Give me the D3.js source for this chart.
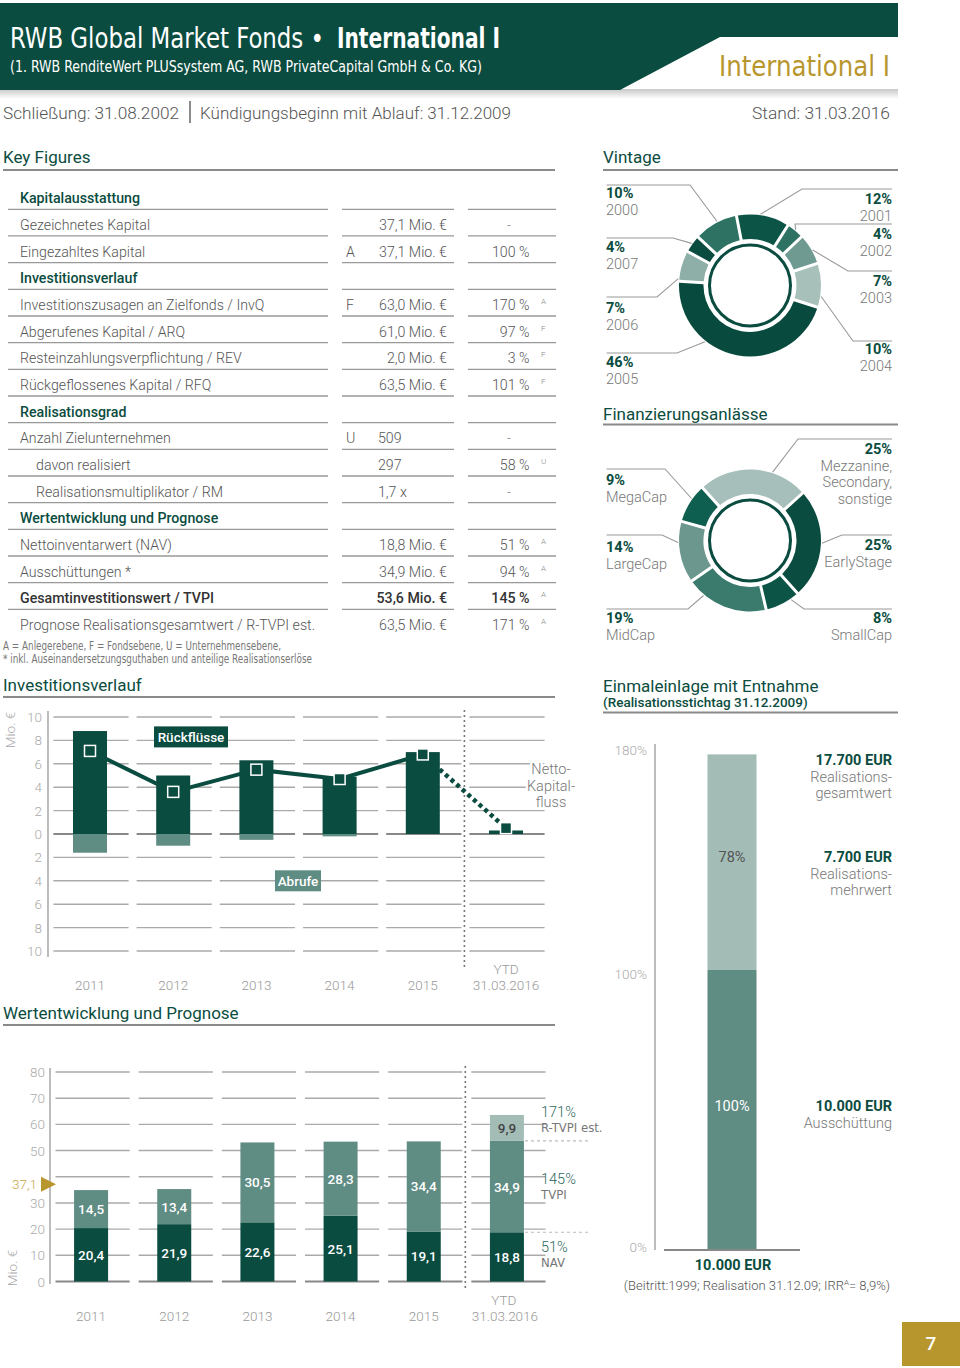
<!DOCTYPE html>
<html><head><meta charset="utf-8">
<script src="https://cdn.jsdelivr.net/npm/d3@7"></script>
<style>body{margin:0;background:#fff}svg{display:block}</style>
</head><body><svg id="c" width="960" height="1368"></svg>
<script>
// ---------------- DATA ----------------
const tableLabels = ["Kapitalausstattung","Gezeichnetes Kapital","Eingezahltes Kapital","Investitionsverlauf",
  "Investitionszusagen an Zielfonds / InvQ","Abgerufenes Kapital / ARQ","Resteinzahlungsverpflichtung / REV",
  "Rückgeflossenes Kapital / RFQ","Realisationsgrad","Anzahl Zielunternehmen","davon realisiert",
  "Realisationsmultiplikator / RM","Wertentwicklung und Prognose","Nettoinventarwert (NAV)","Ausschüttungen *",
  "Gesamtinvestitionswert / TVPI","Prognose Realisationsgesamtwert / R-TVPI est."];
const tableKind = ["head","row","row","head","row","row","row","row","head","row","sub","sub","head","row","row","total","row"];
const tableFlag = ["","","A","","F","","","","","U","","","","","","",""];
const tableValue = ["","37,1 Mio. €","37,1 Mio. €","","63,0 Mio. €","61,0 Mio. €","2,0 Mio. €","63,5 Mio. €","","509","297","1,7 x","","18,8 Mio. €","34,9 Mio. €","53,6 Mio. €","63,5 Mio. €"];
const tablePct = ["","-","100 %","","170 %","97 %","3 %","101 %","","-","58 %","-","","51 %","94 %","145 %","171 %"];
const tableLevel = ["","","","","A","F","F","F","","","U","","","A","A","A","A"];

const vintageYears = ["2000","2001","2002","2003","2004","2005","2006","2007"];
const vintageShares = [10,12,4,7,10,46,7,4];

const finCats = ["Mezzanine, Secondary, sonstige","EarlyStage","SmallCap","MidCap","LargeCap","MegaCap"];
const finShares = [25,25,8,19,14,9];

const flowYears = ["2011","2012","2013","2014","2015","YTD"];
const rueckfluesse = [8.8,5.0,6.3,4.9,7.0,0.3];
const abrufe = [-1.6,-1.0,-0.5,-0.2,0,0];
const nettoKapitalfluss = [7.1,3.6,5.5,4.7,6.8,0.5];
const flowTicks = [-10,-8,-6,-4,-2,0,2,4,6,8,10];

const wertYears = ["2011","2012","2013","2014","2015","YTD"];
const navValues = [20.4,21.9,22.6,25.1,19.1,18.8];
const ausschuettungValues = [14.5,13.4,30.5,28.3,34.4,34.9];
const prognoseValues = [0,0,0,0,0,9.9];
const wertTicks = [0,10,20,30,40,50,60,70,80];
const eingezahlt = 37.1;
const wertPct = ["171%","145%","51%"];
const wertPctNames = ["R-TVPI est.","TVPI","NAV"];

const einlageParts = [100,77];
const einlageLabels = ["100%","78%"];
const einlageTicks = [0,100,180];

// ---------------- STYLE ----------------
const DARK="#0b4c40", MID="#5f8c83", LIGHT="#a3bcb6", GOLD="#b8962e";
const FONT="Roboto, 'Liberation Sans', Arial, sans-serif";
const NARROW="'Liberation Sans Narrow','DejaVu Sans Condensed',Roboto,sans-serif";
const svg = d3.select("#c");
svg.append("rect").attr("width",960).attr("height",1368).attr("fill","#fff");

function txt(g,x,y,s,o={}){
  const t=g.append("text").attr("x",x).attr("y",y).text(s)
    .attr("font-family",o.ff||FONT).attr("font-size",o.fs||14)
    .attr("font-weight",o.fw||300).attr("fill",o.fill||"#555")
    .attr("text-anchor",o.anchor||"start");
  if(o.len) t.attr("textLength",o.len).attr("lengthAdjust","spacingAndGlyphs");
  if(o.halo) t.attr("stroke","#fff").attr("stroke-width",5).attr("paint-order","stroke").attr("stroke-linejoin","round");
  return t;
}
function hline(g,x0,x1,y,o={}){
  return g.append("line").attr("x1",x0).attr("x2",x1).attr("y1",y).attr("y2",y)
    .attr("stroke",o.stroke||"#999").attr("stroke-width",o.w||1.3)
    .attr("stroke-dasharray",o.dash||null);
}
function heading(x0,x1,y,s,ry){
  txt(svg,x0,y,s,{fs:17,fw:400,fill:DARK});
  hline(svg,x0,x1,ry||y+7,{stroke:"#8a8a8a",w:1.8});
}

// ---------------- HEADER ----------------
const defs=svg.append("defs");
const gr=defs.append("linearGradient").attr("id","shadow").attr("x1",0).attr("x2",0).attr("y1",0).attr("y2",1);
gr.append("stop").attr("offset","0%").attr("stop-color","#c8c8c8");
gr.append("stop").attr("offset","100%").attr("stop-color","#fff");
svg.append("rect").attr("x",0).attr("y",89).attr("width",898).attr("height",10).attr("fill","url(#shadow)");
svg.append("path").attr("d","M0,3H898V37H720L620,90H0Z").attr("fill",DARK);
txt(svg,10,48,"RWB Global Market Fonds •",{ff:NARROW,fs:28,fw:400,fill:"#fff",len:314});
txt(svg,337,48,"International I",{ff:NARROW,fs:28,fw:700,fill:"#fff",len:163});
txt(svg,10,72,"(1. RWB RenditeWert PLUSsystem AG, RWB PrivateCapital GmbH & Co. KG)",{ff:NARROW,fs:15,fill:"#fff",fw:400,len:472});
txt(svg,890,76,"International I",{ff:NARROW,fs:29,fill:GOLD,fw:400,anchor:"end",len:171});

txt(svg,3,119,"Schließung: 31.08.2002",{fs:17,len:176});
svg.append("line").attr("x1",190).attr("x2",190).attr("y1",101).attr("y2",123).attr("stroke","#666").attr("stroke-width",1.5);
txt(svg,200,119,"Kündigungsbeginn mit Ablauf: 31.12.2009",{fs:17,len:311});
txt(svg,890,119,"Stand: 31.03.2016",{fs:17,anchor:"end",len:138});

// ---------------- KEY FIGURES TABLE ----------------
heading(3,555,163,"Key Figures");
const tg=svg.append("g");
const rowY=i=>198.3+26.67*i;
tableLabels.forEach((lab,i)=>{
  const y=rowY(i)+5, k=tableKind[i];
  const isHead=k==="head", isTot=k==="total";
  const col=isHead?DARK:(isTot?"#333":"#555");
  const fw=(isHead||isTot)?500:300;
  txt(tg,k==="sub"?36:20,y,lab,{fs:14.2,fw:fw,fill:col});
  if(tableFlag[i]) txt(tg,346,y,tableFlag[i],{fs:14.2,fill:"#555"});
  const v=tableValue[i];
  if(v){ if(v.includes("Mio")) txt(tg,447,y,v,{fs:14.2,fw:fw,fill:col,anchor:"end"});
         else txt(tg,378,y,v,{fs:14.2,fw:fw,fill:col}); }
  const p=tablePct[i];
  if(p){ if(p==="-") txt(tg,509,y,p,{fs:14,fill:"#888",anchor:"middle"});
         else txt(tg,529.5,y,p,{fs:14.2,fw:fw,fill:col,anchor:"end"}); }
  if(tableLevel[i]) txt(tg,541,y-6,tableLevel[i],{fs:8,fill:"#888"});
  if(i<tableLabels.length-1){
    const ry=209.3+26.67*i;
    hline(tg,8,328,ry); hline(tg,342,454,ry); hline(tg,468,556,ry);
  }
});
txt(svg,3,650,"A = Anlegerebene, F = Fondsebene, U = Unternehmensebene,",{ff:NARROW,fs:13,fill:"#777",len:278});
txt(svg,3,663,"* inkl. Auseinandersetzungsguthaben und anteilige Realisationserlöse",{ff:NARROW,fs:13,fill:"#777",len:309});

// ---------------- DONUTS ----------------
function donut(cx,cy,names,shares,colors,startDeg,labels){
  const g=svg.append("g").attr("transform",`translate(${cx},${cy})`);
  const a0=startDeg*Math.PI/180;
  const pie=d3.pie().sort(null).value(d=>d).startAngle(a0).endAngle(a0+2*Math.PI);
  const arcs=pie(shares);
  const arc=d3.arc().innerRadius(46.5).outerRadius(71).padAngle(0.05).padRadius(60);
  g.selectAll("path.seg").data(arcs).join("path").attr("class","seg").attr("d",arc).attr("fill",(d,i)=>colors[i]);
  g.append("circle").attr("r",40.5).attr("fill","none").attr("stroke",DARK).attr("stroke-width",3);
  arcs.forEach((d,i)=>{
    const L=labels[i];
    const ang=d.startAngle+(d.endAngle-d.startAngle)*L.f;
    const ax=cx+72*Math.sin(ang), ay=cy-72*Math.cos(ang);
    svg.append("polyline").attr("points",`${ax},${ay} ${L.ex},${L.ey} ${L.side==="l"?606.5:892},${L.ey}`)
      .attr("fill","none").attr("stroke","#9a9a9a").attr("stroke-width",1.1);
    const tx=L.side==="l"?606:892, an=L.side==="l"?"start":"end";
    txt(svg,tx,L.py,shares[i]+"%",{fs:14.5,fw:700,fill:DARK,anchor:an});
    L.names.forEach((n,j)=>txt(svg,tx,L.py+16.5*(j+1),n,{fs:14.5,fill:"#777",anchor:an}));
  });
}
heading(603,898,163,"Vintage");
donut(750,285.5,vintageYears,vintageShares,
  ["#2e7264","#0b5446","#2e7264","#6f9a92","#a7c0ba","#084a3d","#8eaea8","#0b4c40"],-47,
  [{f:0.55,ex:690,ey:185,side:"l",py:198,names:["2000"]},
   {f:0.45,ex:802,ey:189,side:"r",py:204,names:["2001"]},
   {f:0.5,ex:795,ey:224,side:"r",py:239,names:["2002"]},
   {f:0.55,ex:848,ey:271,side:"r",py:286,names:["2003"]},
   {f:0.75,ex:853,ey:341,side:"r",py:354,names:["2004"]},
   {f:0.67,ex:677,ey:353,side:"l",py:367,names:["2005"]},
   {f:0.08,ex:657,ey:297,side:"l",py:313,names:["2006"]},
   {f:0.5,ex:673,ey:238,side:"l",py:252,names:["2007"]}]);

heading(603,898,420,"Finanzierungsanlässe",424.5);
donut(750,540.5,finCats,finShares,
  ["#a6bfba","#0b4c40","#0b5446","#3b7b6d","#6c978e","#0f5f51"],-42,
  [{f:0.67,ex:798,ey:439,side:"r",py:454,names:["Mezzanine,","Secondary,","sonstige"]},
   {f:0.49,ex:842,ey:535,side:"r",py:550,names:["EarlyStage"]},
   {f:0.25,ex:804,ey:609,side:"r",py:623,names:["SmallCap"]},
   {f:0.78,ex:688,ey:609,side:"l",py:623,names:["MidCap"]},
   {f:0.66,ex:662,ey:535,side:"l",py:552,names:["LargeCap"]},
   {f:0.62,ex:665,ey:469,side:"l",py:485,names:["MegaCap"]}]);

// ---------------- INVESTITIONSVERLAUF ----------------
heading(3,555,691,"Investitionsverlauf",697);
{
  const g=svg.append("g");
  const x=d3.scaleBand().domain(flowYears).range([48.4,547.6]);
  const y=d3.scaleLinear().domain([-10,10]).range([951,717]);
  const bw=34, off=(x.step()-bw)/2, cx=c=>x(c)+x.step()/2;
  flowTicks.forEach(t=>{
    flowYears.forEach(c=>hline(g,x(c)+5,x(c)+x.step()-3,y(t),{stroke:t===0?"#888":"#aaa",w:t===0?2:1.4}));
    txt(g,42,y(t)+5,String(Math.abs(t)),{fs:13.5,fill:"#aaa",anchor:"end"});
  });
  g.append("line").attr("x1",48).attr("x2",48).attr("y1",711).attr("y2",957).attr("stroke","#999").attr("stroke-width",1.3);
  const vx=x("YTD");
  g.append("line").attr("x1",vx).attr("x2",vx).attr("y1",710).attr("y2",968).attr("stroke","#777").attr("stroke-width",1.6).attr("stroke-dasharray","2 3");
  txt(g,0,0,"Mio. €",{fs:13.5,fill:"#aaa",anchor:"middle"}).attr("transform","translate(15,730) rotate(-90)");
  g.selectAll("rect.ret").data(flowYears).join("rect").attr("class","ret")
    .attr("x",c=>x(c)+off).attr("width",bw)
    .attr("y",(c,i)=>y(rueckfluesse[i])).attr("height",(c,i)=>y(0)-y(rueckfluesse[i])).attr("fill",DARK);
  g.selectAll("rect.call").data(flowYears).join("rect").attr("class","call")
    .attr("x",c=>x(c)+off).attr("width",bw)
    .attr("y",y(0)).attr("height",(c,i)=>y(abrufe[i])-y(0)).attr("fill",MID);
  const pts=flowYears.map((c,i)=>[cx(c),y(nettoKapitalfluss[i])]);
  const line=d3.line();
  g.append("path").attr("d",line(pts.slice(0,5))).attr("fill","none").attr("stroke",DARK).attr("stroke-width",4);
  g.append("path").attr("d",line(pts.slice(4))).attr("fill","none").attr("stroke",DARK).attr("stroke-width",4.5).attr("stroke-dasharray","4 3.5");
  g.selectAll("rect.mk").data(pts).join("rect").attr("class","mk")
    .attr("x",d=>d[0]-5.5).attr("y",d=>d[1]-5.5).attr("width",11).attr("height",11)
    .attr("fill",DARK).attr("stroke","#fff").attr("stroke-width",1.5);
  g.append("rect").attr("x",154).attr("y",y(8.3)-10.5).attr("width",74).attr("height",21).attr("fill",DARK);
  txt(g,191,y(8.3)+5,"Rückflüsse",{fs:13.5,fw:500,fill:"#fff",anchor:"middle"});
  g.append("rect").attr("x",275).attr("y",y(-4)-10.5).attr("width",46).attr("height",21).attr("fill",MID);
  txt(g,298,y(-4)+5,"Abrufe",{fs:13.5,fw:500,fill:"#fff",anchor:"middle"});
  ["Netto-","Kapital-","fluss"].forEach((s,i)=>txt(g,551,774+16.5*i,s,{fs:14.5,fill:"#777",anchor:"middle",halo:true}));
  flowYears.forEach(c=>{
    if(c==="YTD"){ txt(g,cx(c),974,"YTD",{fs:13.5,fill:"#999",anchor:"middle"});
                   txt(g,cx(c),990,"31.03.2016",{fs:13.5,fill:"#999",anchor:"middle"}); }
    else txt(g,cx(c),990,c,{fs:13.5,fill:"#999",anchor:"middle"});
  });
}

// ---------------- WERTENTWICKLUNG ----------------
heading(3,555,1019,"Wertentwicklung und Prognose",1025);
{
  const g=svg.append("g");
  const x=d3.scaleBand().domain(wertYears).range([49.5,548.5]);
  const y=d3.scaleLinear().domain([0,80]).range([1281.5,1072]);
  const bw=34, off=(x.step()-bw)/2, cx=c=>x(c)+x.step()/2;
  wertTicks.forEach(t=>{
    wertYears.forEach(c=>hline(g,x(c)+6,x(c)+x.step()-3,y(t),{stroke:t===0?"#888":"#aaa",w:t===0?2:1.4}));
    if(t!==40) txt(g,45,y(t)+5,String(t),{fs:13.5,fill:"#aaa",anchor:"end"});
  });
  g.append("line").attr("x1",50).attr("x2",50).attr("y1",1068).attr("y2",1284).attr("stroke","#999").attr("stroke-width",1.3);
  const vx=x("YTD");
  g.append("line").attr("x1",vx).attr("x2",vx).attr("y1",1066).attr("y2",1291).attr("stroke","#777").attr("stroke-width",1.6).attr("stroke-dasharray","2 3");
  txt(g,0,0,"Mio. €",{fs:13.5,fill:"#aaa",anchor:"middle"}).attr("transform","translate(17,1268) rotate(-90)");
  const ty=y(eingezahlt);
  g.append("path").attr("d",`M41,${ty-7.5}L56,${ty}L41,${ty+7.5}Z`).attr("fill",GOLD);
  txt(g,37,ty+5,String(eingezahlt).replace(".",","),{fs:13.5,fill:"#c9a94a",anchor:"end"});
  const fmt=v=>d3.format(".1f")(v).replace(".",",");
  const layers=[[navValues,DARK,"#fff"],[ausschuettungValues,MID,"#fff"],[prognoseValues,LIGHT,"#444"]];
  wertYears.forEach((c,i)=>{
    let base=0;
    layers.forEach(([arr,col,tc])=>{
      const v=arr[i]; if(!v) return;
      g.append("rect").attr("x",x(c)+off).attr("width",bw).attr("y",y(base+v)).attr("height",y(base)-y(base+v)).attr("fill",col);
      txt(g,cx(c),(y(base)+y(base+v))/2+5,fmt(v),{fs:13.5,fw:500,fill:tc,anchor:"middle"});
      base+=v;
    });
  });
  const iY=wertYears.length-1;
  const tvpi=navValues[iY]+ausschuettungValues[iY];
  hline(g,525,590,y(tvpi),{stroke:"#bbb",w:1.2,dash:"3 3"});
  hline(g,525,590,y(navValues[iY]),{stroke:"#bbb",w:1.2,dash:"3 3"});
  const annY=[1117,1184,1252];
  wertPct.forEach((p,i)=>{
    txt(g,541,annY[i],p,{fs:14.5,fill:"#2d6a5d"});
    txt(g,541,annY[i]+14.5,wertPctNames[i],{ff:NARROW,fs:13,fill:"#777"});
  });
  wertYears.forEach(c=>{
    if(c==="YTD"){ txt(g,cx(c)-3,1305,"YTD",{fs:13.5,fill:"#999",anchor:"middle"});
                   txt(g,cx(c)-2,1321,"31.03.2016",{fs:13.5,fill:"#999",anchor:"middle"}); }
    else txt(g,cx(c),1321,c,{fs:13.5,fill:"#999",anchor:"middle"});
  });
}

// ---------------- EINMALEINLAGE ----------------
heading(603,898,692,"Einmaleinlage mit Entnahme",712.5);
txt(svg,603,707,"(Realisationsstichtag 31.12.2009)",{fs:13.5,fw:500,fill:DARK});
{
  const g=svg.append("g");
  const y=d3.scaleLinear().domain([0,180]).range([1250,746]);
  const x=d3.scaleBand().domain(["Einlage"]).range([664,800]).padding(0.47);
  einlageTicks.forEach(t=>txt(g,647,y(t)+5+(t===0?-3:4),t+"%",{fs:13.5,fill:"#aaa",anchor:"end"}));
  g.append("line").attr("x1",655).attr("x2",655).attr("y1",744).attr("y2",1250).attr("stroke","#999").attr("stroke-width",1.3);
  let base=0;
  const cols=[MID,LIGHT];
  einlageParts.forEach((v,i)=>{
    g.append("rect").attr("x",x("Einlage")).attr("width",x.bandwidth()).attr("y",y(base+v)).attr("height",y(base)-y(base+v)).attr("fill",cols[i]);
    base+=v;
  });
  hline(g,664,800,1250,{stroke:"#888",w:2});
  const bx=x("Einlage")+x.bandwidth()/2;
  txt(g,bx,1111,einlageLabels[0],{fs:14.5,fw:400,fill:"#fff",anchor:"middle"});
  txt(g,bx,862,einlageLabels[1],{fs:14.5,fw:400,fill:"#555",anchor:"middle"});
  const R=[[765,"17.700 EUR",["Realisations-","gesamtwert"]],[862,"7.700 EUR",["Realisations-","mehrwert"]],[1111,"10.000 EUR",["Ausschüttung"]]];
  R.forEach(([yy,b,ls])=>{
    txt(g,892,yy,b,{fs:14.5,fw:700,fill:DARK,anchor:"end"});
    ls.forEach((l,j)=>txt(g,892,yy+16.5*(j+1),l,{fs:14.5,fill:"#777",anchor:"end"}));
  });
  txt(g,bx+1,1270,"10.000 EUR",{fs:14.5,fw:700,fill:DARK,anchor:"middle"});
  const ft=txt(g,757,1290,"(Beitritt:1999; Realisation 31.12.09; IRR",{fs:13,fill:"#555",anchor:"middle"});
  ft.append("tspan").attr("font-size",8).attr("dy",-5).text("A");
  ft.append("tspan").attr("dy",5).text("= 8,9%)");
}

// page number
svg.append("rect").attr("x",902).attr("y",1322).attr("width",58).attr("height",44).attr("fill",GOLD);
txt(svg,931,1350,"7",{fs:19,fw:500,fill:"#fff",anchor:"middle"});
</script></body></html>
